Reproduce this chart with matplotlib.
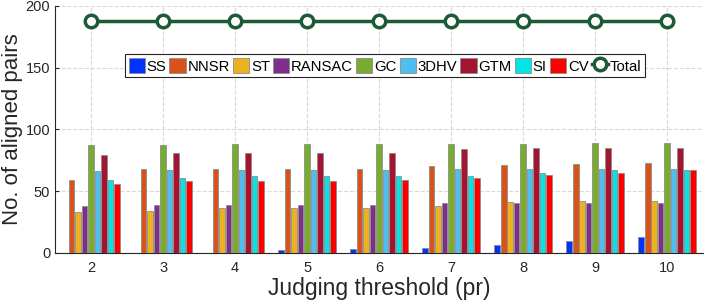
import numpy as np
import matplotlib
matplotlib.use('Agg')
import matplotlib.pyplot as plt

plt.rcParams['font.family'] = ['Liberation Sans', 'DejaVu Sans']

thresholds = [2, 3, 4, 5, 6, 7, 8, 9, 10]
methods = ['SS', 'NNSR', 'ST', 'RANSAC', 'GC', '3DHV', 'GTM', 'SI', 'CV']

ss     = [0, 0, 0, 2, 3, 4, 6, 10, 13]
nnsr   = [59, 68, 68, 68, 68, 70, 71, 72, 73]
st     = [33, 34, 36, 36, 36, 38, 41, 42, 42]
ransac = [38, 39, 39, 39, 39, 40, 40, 40, 40]
gc     = [87, 87, 88, 88, 88, 88, 88, 89, 89]
hv3d   = [66, 67, 67, 67, 67, 68, 68, 68, 68]
gtm    = [79, 81, 81, 81, 81, 84, 85, 85, 85]
si     = [59, 61, 62, 62, 62, 62, 65, 67, 67]
cv     = [56, 58, 58, 58, 59, 61, 63, 65, 67]
total  = [188, 188, 188, 188, 188, 188, 188, 188, 188]

colors = ['#0033FF', '#D95319', '#EDB120', '#7E2F8E', '#77AC30',
          '#4DBEEE', '#A2142F', '#00E6E6', '#FF0000']

series = [ss, nnsr, st, ransac, gc, hv3d, gtm, si, cv]

fig = plt.figure(figsize=(7.06, 3.08), dpi=100)
ax = fig.add_axes([0.078, 0.179, 0.918, 0.802])

x = np.array(thresholds, dtype=float)
pitch = 0.09
width = 0.078
handles = []
for i, (vals, name) in enumerate(zip(series, methods)):
    b = ax.bar(x + (i - 4) * pitch, vals, width, color=colors[i], label=name,
               edgecolor='#8c8c8c', linewidth=0.6, zorder=3)
    handles.append(b)

ln, = ax.plot(x, total, '-o', color='#1D5B37', lw=2.5, ms=9, mfc='white',
              mew=2.5, label='Total', zorder=4)
handles.append(ln)

ax.set_xlim(1.5, 10.5)
ax.set_ylim(0, 200)
ax.set_xticks(thresholds)
ax.set_yticks([0, 50, 100, 150, 200])
ax.tick_params(labelsize=10.5, direction='in', length=3, colors='#262626')
ax.tick_params(axis='x', pad=6)
ax.grid(True, ls='--', color='#d9d9d9', lw=0.8, zorder=0)
for s in ['top', 'right']:
    ax.spines[s].set_visible(False)
for s in ['left', 'bottom']:
    ax.spines[s].set_color('#262626')

ax.set_xlabel('Judging threshold (pr)', fontsize=16.5, color='#262626', labelpad=1)
ax.set_ylabel('No. of aligned pairs', fontsize=16, color='#262626', labelpad=2)

leg = ax.legend(handles=handles, loc='center', bbox_to_anchor=(0.509, 0.757),
                ncol=10, fontsize=10.7, handlelength=1.1, handleheight=1.2,
                handletextpad=0.12, columnspacing=0.2, borderpad=0.25,
                borderaxespad=0, fancybox=False, framealpha=1)
leg.get_frame().set_edgecolor('#262626')
leg.get_frame().set_linewidth(0.8)

fig.savefig('out.png', dpi=100)
